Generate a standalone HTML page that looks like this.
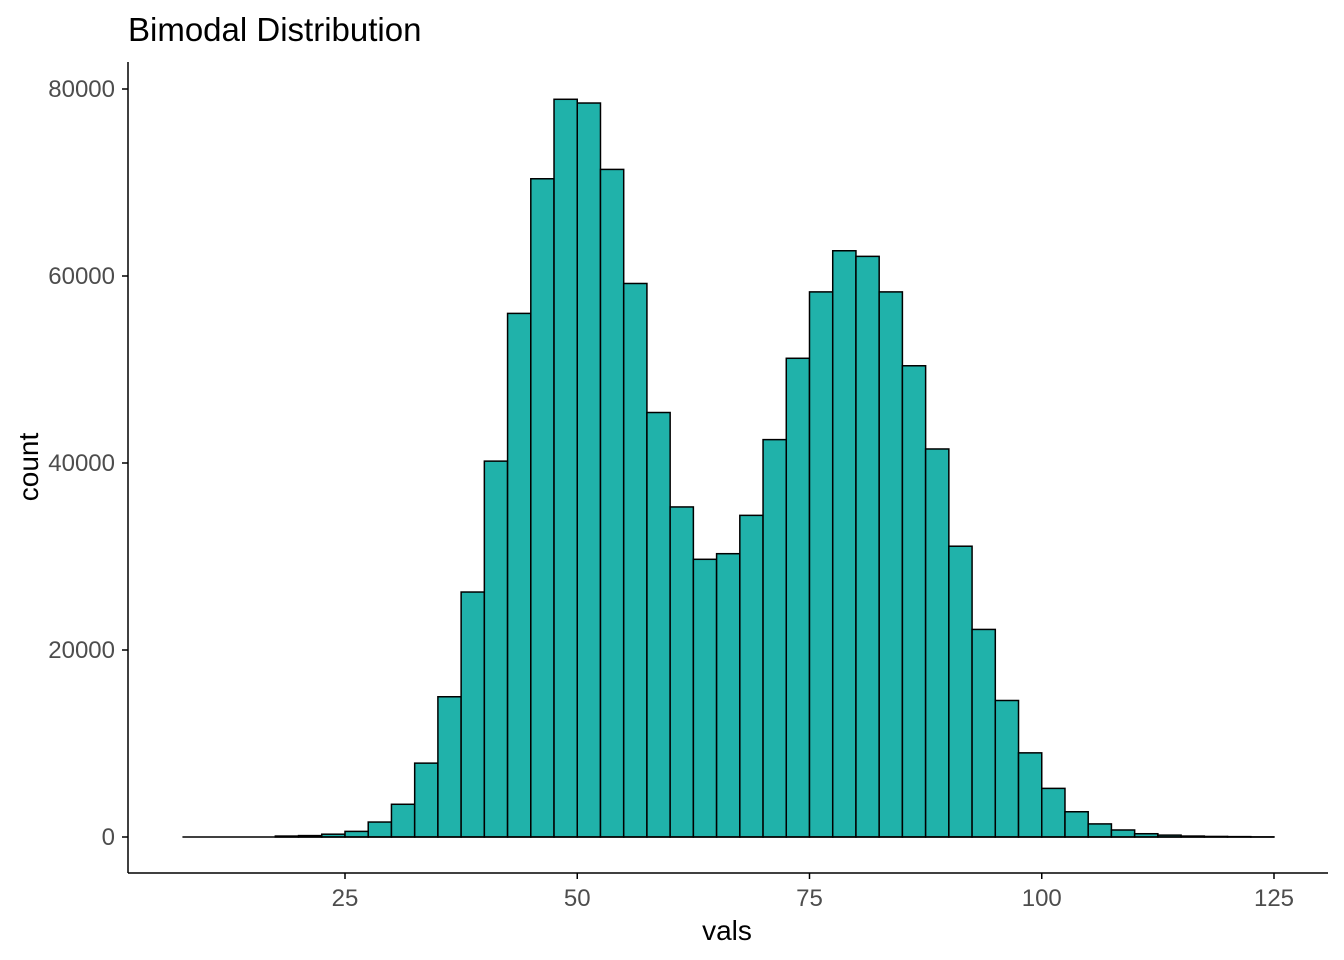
<!DOCTYPE html>
<html><head><meta charset="utf-8"><style>
body{margin:0;background:#fff;}
svg{display:block;font-family:"Liberation Sans",Arial,sans-serif;}
</style></head><body>
<svg id="chart" width="1344" height="960">
<text x="128" y="41" font-size="33" fill="#000">Bimodal Distribution</text>
<g id="bars"></g>
<g id="axes"></g>
<text x="727" y="940" font-size="28" text-anchor="middle" fill="#000">vals</text>
<text transform="translate(38,467) rotate(-90)" font-size="28" text-anchor="middle" fill="#000">count</text>
</svg>
<script>
const binStarts = [7.5,10,12.5,15,17.5,20,22.5,25,27.5,30,32.5,35,37.5,40,42.5,45,47.5,50,52.5,55,57.5,60,62.5,65,67.5,70,72.5,75,77.5,80,82.5,85,87.5,90,92.5,95,97.5,100,102.5,105,107.5,110,112.5,115,117.5,120,122.5];
const counts = [0,0,0,0,100,150,300,600,1600,3500,7900,15000,26200,40200,56000,70400,78900,78500,71400,59200,45400,35300,29700,30300,34400,42500,51200,58300,62700,62100,58300,50400,41500,31100,22200,14600,9000,5200,2700,1400,750,350,200,100,60,40,10];
const binWidth = 2.5;
const xTicks = [25,50,75,100,125];
const yTicks = [0,20000,40000,60000,80000];
const NS="http://www.w3.org/2000/svg";
const xs = v => 345 + (v-25)*(1274-345)/100;
const ys = v => 837 - v*(837-89)/80000;
const bars=document.getElementById('bars');
binStarts.forEach((b,i)=>{
  const r=document.createElementNS(NS,'rect');
  const x0=xs(b), x1=xs(b+binWidth), y=ys(counts[i]);
  r.setAttribute('x',x0);r.setAttribute('width',x1-x0);
  r.setAttribute('y',y);r.setAttribute('height',Math.max(0,ys(0)-y));
  r.setAttribute('fill','#20b2aa');r.setAttribute('stroke','#000');r.setAttribute('stroke-width','1.5');
  
  
  bars.appendChild(r);
});
const ax=document.getElementById('axes');
function line(x1,y1,x2,y2,name){const l=document.createElementNS(NS,'line');l.setAttribute('x1',x1);l.setAttribute('y1',y1);l.setAttribute('x2',x2);l.setAttribute('y2',y2);l.setAttribute('stroke','#000');l.setAttribute('stroke-width','1.5');


ax.appendChild(l);}
function text(x,y,s,anchor,name){const t=document.createElementNS(NS,'text');t.setAttribute('x',x);t.setAttribute('y',y);t.setAttribute('font-size','24');t.setAttribute('fill','#4d4d4d');t.setAttribute('text-anchor',anchor);t.textContent=s;


ax.appendChild(t);}
line(xs(binStarts[0]),ys(0),xs(binStarts[binStarts.length-1]+binWidth),ys(0),'baseline');
line(128,62,128,873,'y-axis-line');
line(128,873,1328,873,'x-axis-line');
yTicks.forEach(v=>{line(122,ys(v),128,ys(v),'y-tick');text(115,ys(v)+8,String(v),'end','y-tick-label');});
xTicks.forEach(v=>{line(xs(v),873,xs(v),879,'x-tick');text(xs(v),906,String(v),'middle','x-tick-label');});
</script>
</body></html>
